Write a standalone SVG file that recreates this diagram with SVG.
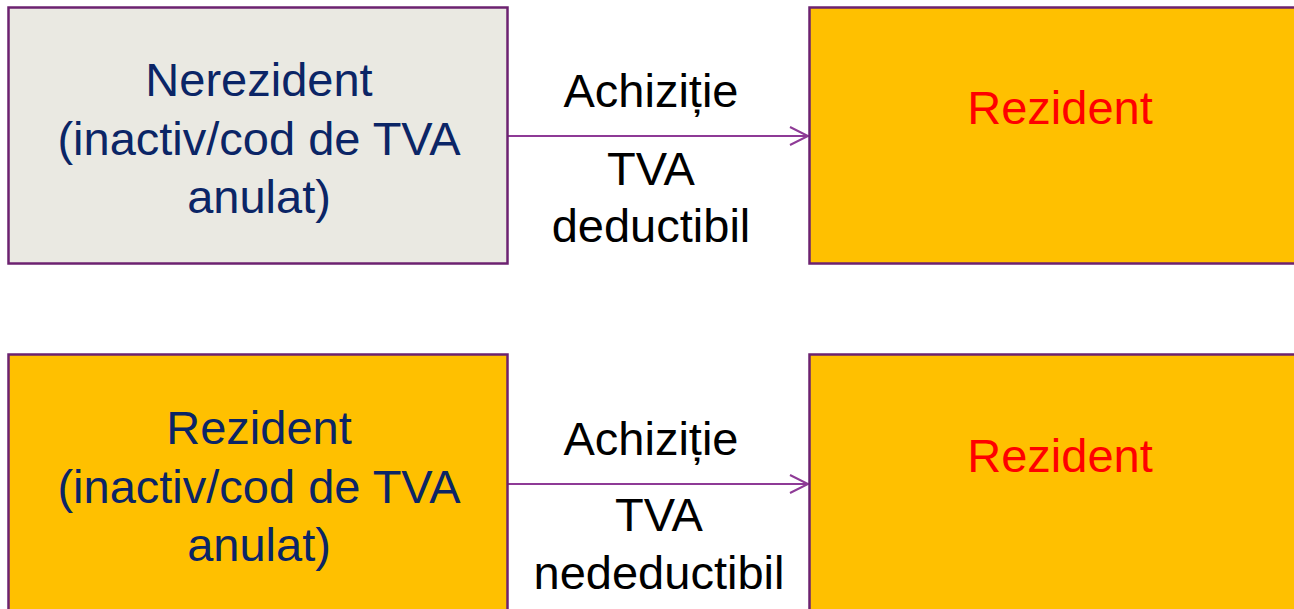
<svg xmlns="http://www.w3.org/2000/svg" width="1294" height="609" viewBox="0 0 1294 609">
<defs>
<style>
.box{stroke:#6c2270;stroke-width:2.5}
.grey{fill:#EAE9E2}
.yel{fill:#FFC000}
text{font-family:"Liberation Sans",Arial,sans-serif;font-size:47px;text-anchor:middle}
.navy{fill:#0B2566}
.red{fill:#FF0000}
.blk{fill:#000000}
.conn{stroke:#8E3A96;stroke-width:2;fill:none}
</style>
<marker id="arr" markerWidth="22" markerHeight="22" refX="19" refY="10" orient="auto" markerUnits="userSpaceOnUse">
<path d="M1,1 L19,10 L1,19" fill="none" stroke="#8E3A96" stroke-width="2"/>
</marker>
</defs>
<rect width="1294" height="609" fill="#FFFFFF"/>
<g id="connectors">
<line class="conn" x1="508" y1="136" x2="808" y2="136" marker-end="url(#arr)"/>
<line class="conn" x1="508" y1="484" x2="808" y2="484" marker-end="url(#arr)"/>
</g>
<g id="node-nerezident">
<rect class="box grey" x="8.5" y="7.5" width="499" height="256"/>
<text class="navy" x="259" y="96">Nerezident</text>
<text class="navy" x="259" y="155">(inactiv/cod de TVA</text>
<text class="navy" x="259" y="213">anulat)</text>
</g>
<g id="node-rezident-top">
<rect class="box yel" x="809.5" y="7.5" width="500" height="256"/>
<text class="red" x="1060" y="124">Rezident</text>
</g>
<g id="label-top">
<text class="blk" x="651" y="107">Achiziție</text>
<text class="blk" x="651" y="185">TVA</text>
<text class="blk" x="651" y="242">deductibil</text>
</g>
<g id="node-rezident-inactiv">
<rect class="box yel" x="8.5" y="354.5" width="499" height="300"/>
<text class="navy" x="259" y="444">Rezident</text>
<text class="navy" x="259" y="503">(inactiv/cod de TVA</text>
<text class="navy" x="259" y="561">anulat)</text>
</g>
<g id="node-rezident-bottom">
<rect class="box yel" x="809.5" y="354.5" width="500" height="300"/>
<text class="red" x="1060" y="472">Rezident</text>
</g>
<g id="label-bottom">
<text class="blk" x="651" y="455">Achiziție</text>
<text class="blk" x="659" y="531">TVA</text>
<text class="blk" x="659" y="589">nedeductibil</text>
</g>
</svg>
